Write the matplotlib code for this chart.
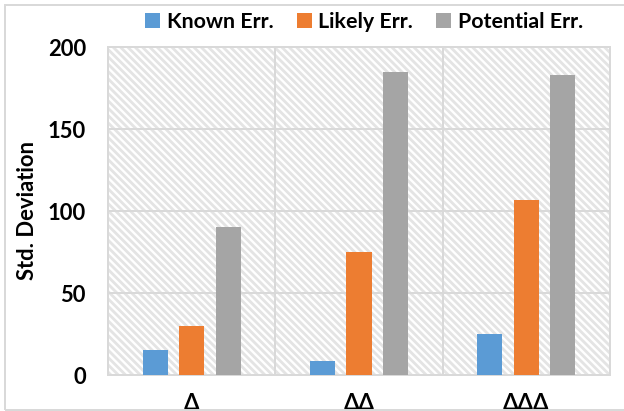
import matplotlib.pyplot as plt
from matplotlib.patches import Rectangle
import numpy as np

# datos
categorias = ['Δ', 'ΔΔ', 'ΔΔΔ']
series = ['Known Err.', 'Likely Err.', 'Potential Err.']
known = [15, 8.5, 25]
likely = [30, 75, 106.5]
potential = [90.5, 185, 183]
colores = ['#5B9BD5', '#ED7D31', '#A5A5A5']
yticks = [0, 50, 100, 150, 200]

DPI = 88
W, H = 624, 411
plt.rcParams['font.family'] = ['Lato', 'DejaVu Sans']
plt.rcParams['font.weight'] = 'bold'
plt.rcParams['hatch.linewidth'] = 2.3

fig = plt.figure(figsize=(W / DPI, H / DPI), dpi=DPI)

# borde del grafico
fig.patches.append(Rectangle((5 / W, 1 - 410 / H), 1.0, (410 - 5.5) / H,
                             transform=fig.transFigure, fill=False,
                             edgecolor='#d9d9d9', linewidth=1.6))

ax = fig.add_axes([108 / W, 1 - 375 / H, (610 - 108) / W, (375 - 47) / H])

# fondo rayado
ax.add_patch(Rectangle((0, 0), 1, 1, transform=ax.transAxes, facecolor='white',
                       edgecolor='#e4e4e4', linewidth=0, hatch='\\\\\\\\', zorder=0))

x = np.arange(len(categorias))
ancho = 0.15
paso = 0.218
for i, (nombre, vals) in enumerate(zip(series, [known, likely, potential])):
    ax.bar(x + (i - 1) * paso, vals, ancho, color=colores[i], label=nombre, zorder=3)

ax.set_xlim(-0.5, 2.5)
ax.set_ylim(0, 200)
ax.set_yticks(yticks)
ax.set_xticks(x)
ax.set_xticklabels(categorias)
ax.set_xticks([0.5, 1.5], minor=True)
ax.tick_params(axis='both', which='both', length=0, labelsize=18)
ax.tick_params(axis='y', pad=18)
ax.tick_params(axis='x', pad=14.5)
ax.grid(True, axis='y', color='#d9d9d9', linewidth=1.6, zorder=1)
ax.grid(True, axis='x', which='minor', color='#d9d9d9', linewidth=1.6, zorder=1)
ax.set_axisbelow(True)
for s in ax.spines.values():
    s.set_color('#d9d9d9')
    s.set_linewidth(1.6)

ax.set_ylabel('Std. Deviation', fontsize=18, fontweight='bold')
ax.yaxis.set_label_coords(-(108 - 27) / (610 - 108), 0.5)
ax.yaxis.label.set_verticalalignment('center')

fig.legend(loc='center', bbox_to_anchor=(364 / W, 1 - 22 / H), ncol=3,
           frameon=False, fontsize=17.5, handlelength=0.7, handleheight=0.7,
           handletextpad=0.3, columnspacing=1.1, borderpad=0)

fig.savefig('out.png', dpi=DPI)
